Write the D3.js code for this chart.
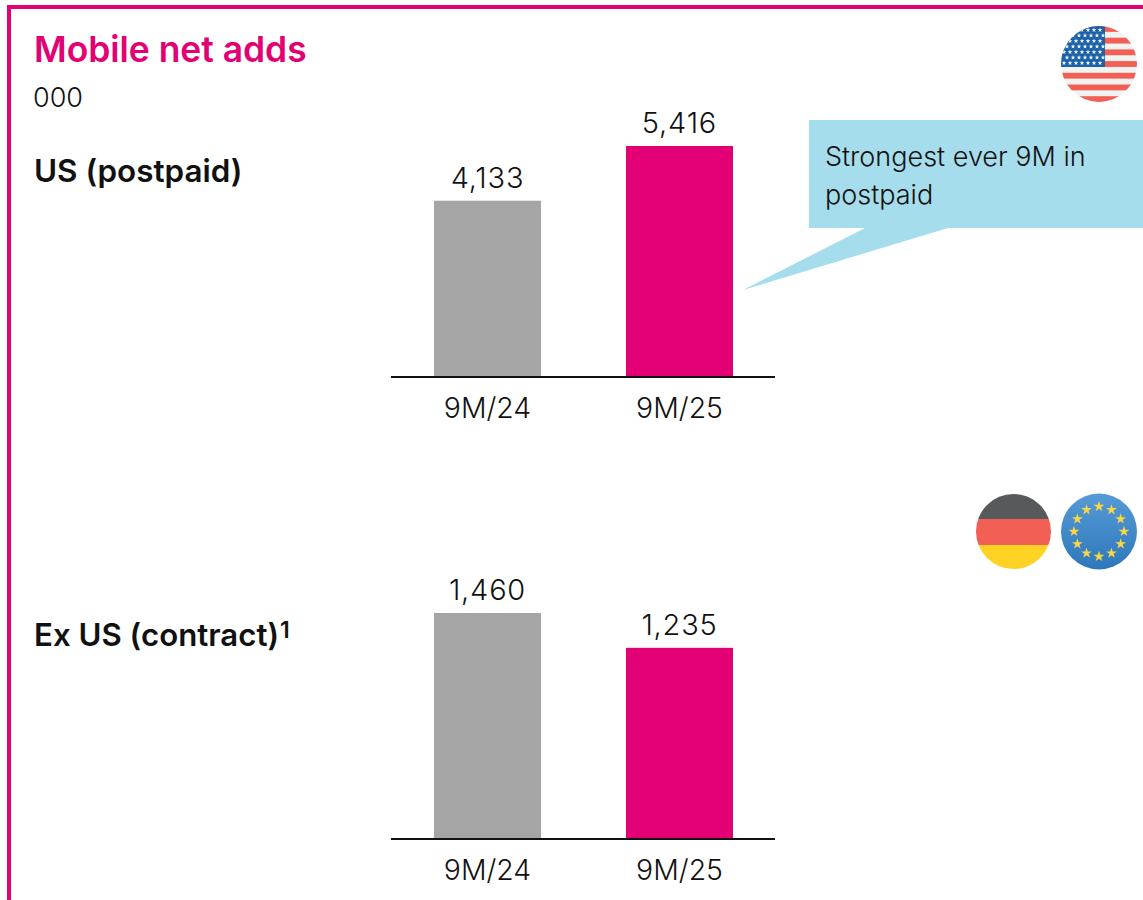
<!DOCTYPE html>
<html>
<head>
<meta charset="utf-8">
<script src="https://cdn.jsdelivr.net/npm/d3@7"></script>
<style>
  html, body { margin: 0; padding: 0; background: #fff; }
  svg { display: block; }
  text { font-family: Inter, "Noto Sans", sans-serif; fill: #111; }
</style>
</head>
<body>
<div id="chart"></div>
<script>
// values, in thousands
var periods = ['9M/24', '9M/25'];
var usValues = [4133, 5416];
var exUsValues = [1460, 1235];
var barColors = ['#a5a5a5', '#e20074'];
var calloutLines = ['Strongest ever 9M in', 'postpaid'];

var width = 1143, height = 900;
var magenta = '#e20074';

var svg = d3.select('#chart').append('svg')
    .attr('width', width)
    .attr('height', height);

//Frame, open on the right and at the bottom
svg.append('path')
    .attr('d', 'M9,900V7H1143')
    .attr('fill', 'none')
    .attr('stroke', magenta)
    .attr('stroke-width', 4);

svg.append('text').attr('x', 34).attr('y', 62)
    .style('font-size', '35.4px').style('font-weight', 600)
    .style('fill', magenta).text('Mobile net adds');
svg.append('text').attr('x', 33).attr('y', 107)
    .style('font-size', '27px').style('font-weight', 300).text('000');
svg.append('text').attr('x', 34).attr('y', 182)
    .style('font-size', '31.4px').style('font-weight', 600).text('US (postpaid)');

var exLabel = svg.append('text').attr('x', 34).attr('y', 646)
    .style('font-size', '31.2px').style('font-weight', 600).text('Ex US (contract)');
exLabel.append('tspan').attr('dx', 1).attr('dy', -8).style('font-size', '23px').style('font-weight', 600).text('1');

//One small bar chart. baseline = y of the axis, rangeTop = y of the tallest bar for domainMax
function drawBars(values, baseline, domainMax, rangeTop) {
    var x = d3.scaleBand().domain(periods).range([391.5, 775.5]).paddingInner(0.4427).paddingOuter(0.2214);
    var y = d3.scaleLinear().domain([0, domainMax]).range([baseline, rangeTop]);
    var g = svg.append('g');

    g.selectAll('rect').data(values).enter().append('rect')
        .attr('x', function(d, i) { return x(periods[i]); })
        .attr('y', function(d) { return y(d); })
        .attr('width', x.bandwidth())
        .attr('height', function(d) { return baseline - y(d); })
        .attr('fill', function(d, i) { return barColors[i]; });

    g.selectAll('text.value').data(values).enter().append('text')
        .attr('class', 'value')
        .attr('x', function(d, i) { return x(periods[i]) + x.bandwidth() / 2; })
        .attr('y', function(d) { return y(d) - 13; })
        .attr('text-anchor', 'middle')
        .style('font-size', '29px').style('font-weight', 300)
        .style('letter-spacing', '0.8px')
        .text(d3.format(','));

    var axis = g.append('g').attr('transform', 'translate(0,' + (baseline + 0.5) + ')')
        .call(d3.axisBottom(x).tickSize(0).tickPadding(20).offset(-0.5));
    axis.select('.domain').attr('stroke', '#111').attr('stroke-width', 2);
    axis.selectAll('text').style('font-size', '28.4px').style('font-weight', 300)
        .attr('font-family', null);
}

drawBars(usValues, 377, 5416, 146);
drawBars(exUsValues, 839, 1460, 613);

//Callout
svg.append('path')
    .attr('d', 'M809,120H1143V228H948L743,290L865,228H809Z')
    .attr('fill', '#a5dded');
svg.append('text').attr('x', 825).attr('y', 166)
    .selectAll('tspan').data(calloutLines).enter().append('tspan')
    .attr('x', 825)
    .attr('dy', function(d, i) { return i ? 38 : 0; })
    .style('font-size', '27px').style('font-weight', 300)
    .text(function(d) { return d; });

//Flags
var defs = svg.append('defs');
function flagClip(id, cx, cy, r) {
    defs.append('clipPath').attr('id', id).append('circle')
        .attr('cx', cx).attr('cy', cy).attr('r', r);
    return svg.append('g').attr('clip-path', 'url(#' + id + ')');
}
var star = d3.symbol().type(d3.symbolStar);

// US
var us = flagClip('clipUs', 1099, 64, 38);
us.append('rect').attr('x', 1061).attr('y', 26).attr('width', 76).attr('height', 76).attr('fill', '#f1f2f2');
for (var s = 0; s < 7; s++) {
    us.append('rect').attr('x', 1061).attr('y', 26 + s * 11.7).attr('width', 76).attr('height', 5.85).attr('fill', '#f15f55');
}
us.append('rect').attr('x', 1061).attr('y', 26).attr('width', 44).attr('height', 41).attr('fill', '#1b62a8');
for (var row = 0; row < 7; row++) {
    for (var col = 0; col < 7; col++) {
        us.append('path')
            .attr('d', star.size(7)())
            .attr('transform', 'translate(' + (1064 + col * 6 + (row % 2 ? 3 : 0)) + ',' + (30 + row * 5.5) + ')')
            .attr('fill', '#fff');
    }
}

// Germany
var de = flagClip('clipDe', 1013.5, 531.5, 37.5);
de.append('rect').attr('x', 976).attr('y', 494).attr('width', 75).attr('height', 25).attr('fill', '#58595b');
de.append('rect').attr('x', 976).attr('y', 519).attr('width', 75).attr('height', 26).attr('fill', '#f15f55');
de.append('rect').attr('x', 976).attr('y', 545).attr('width', 75).attr('height', 25).attr('fill', '#ffd324');

// EU
var euGrad = defs.append('linearGradient').attr('id', 'euGrad').attr('x1', 0).attr('y1', 0).attr('x2', 0).attr('y2', 1);
euGrad.append('stop').attr('offset', 0).attr('stop-color', '#559bd6');
euGrad.append('stop').attr('offset', 1).attr('stop-color', '#2e77bb');
svg.append('circle').attr('cx', 1099).attr('cy', 531.5).attr('r', 38).attr('fill', 'url(#euGrad)');
d3.range(12).forEach(function(i) {
    var a = i / 12 * 2 * Math.PI;
    svg.append('path')
        .attr('d', star.size(36)())
        .attr('transform', 'translate(' + (1099 + 25 * Math.sin(a)) + ',' + (531.5 - 25 * Math.cos(a)) + ')')
        .attr('fill', '#f9d548');
});
</script>
</body>
</html>
